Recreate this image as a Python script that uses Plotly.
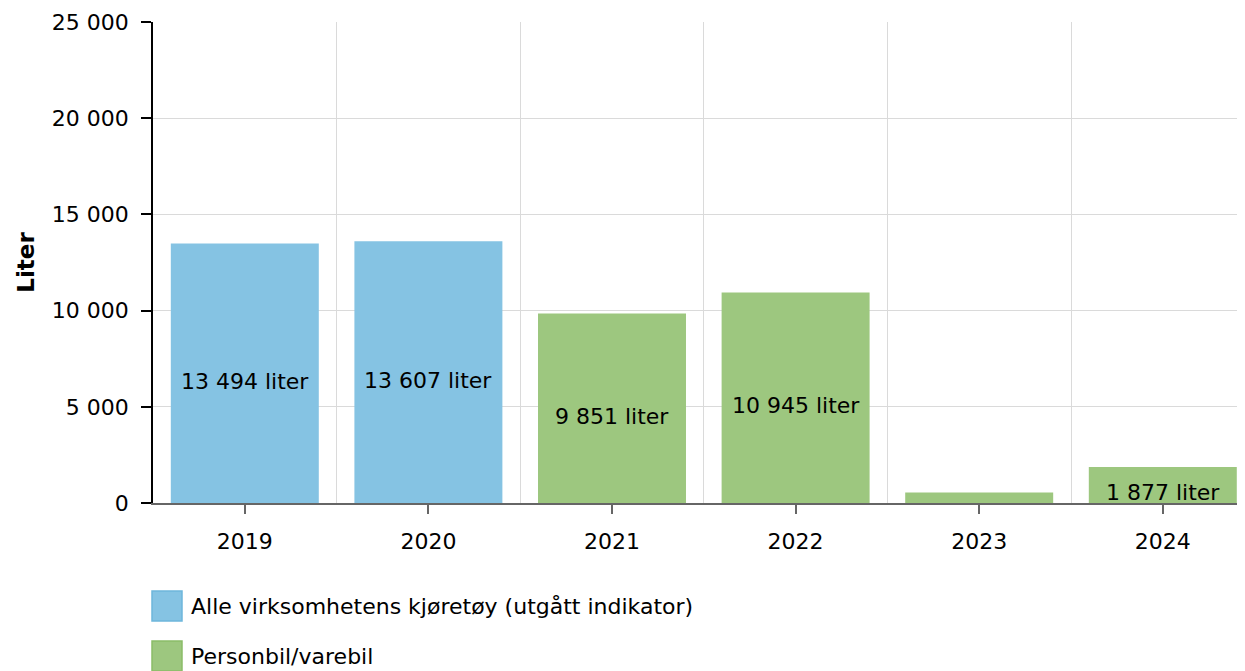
import plotly.graph_objects as go

years_a = [2019, 2020]
values_a = [13494, 13607]
years_b = [2021, 2022, 2023, 2024]
values_b = [9851, 10945, 550, 1877]
series_names = ["Alle virksomhetens kjøretøy (utgått indikator)", "Personbil/varebil"]
colors = ["#85C3E3", "#9DC77F"]
border_colors = ["#6DB6DC", "#8BBD68"]
year_ticks = [2019, 2020, 2021, 2022, 2023, 2024]
y_ticks = [0, 5000, 10000, 15000, 20000, 25000]
label_min = 1000  # labels skipped for very small bars

FONT = "DejaVu Sans, Verdana, sans-serif"
FS = 22
GRID = "#dadada"

def fmt(v):
    return f"{v:,}".replace(",", " ")

# page has an 8px body margin; work in figure coordinates
OFF = 8
L, T = 153 - OFF, 22 - OFF
W, H = 1245 - OFF, 671 - OFF
PLOT_BOTTOM = 503 - OFF
plot_w = W - L
plot_h = PLOT_BOTTOM - T

fig = go.Figure()
for xs, ys, name, c in [(years_a, values_a, series_names[0], colors[0]),
                        (years_b, values_b, series_names[1], colors[1])]:
    fig.add_trace(go.Bar(x=xs, y=ys, name=name, marker=dict(color=c, line=dict(width=0)),
                         width=0.806, showlegend=False, hoverinfo="x+y"))

annotations = []
for xs, ys in [(years_a, values_a), (years_b, values_b)]:
    for x, v in zip(xs, ys):
        if v >= label_min:
            annotations.append(dict(x=x, y=v / 2, xref="x", yref="y", text=f"{fmt(v)} liter",
                                    showarrow=False, yshift=-8,
                                    font=dict(family=FONT, size=FS, color="#000000")))

# custom legend (positions given in reference page pixels)
def px_x(px):
    return (px - OFF - L) / plot_w
def px_y(py):
    return (PLOT_BOTTOM - (py - OFF)) / plot_h

shapes = []
legend_rows = [606, 656]
for i, (name, c, bc) in enumerate(zip(series_names, colors, border_colors)):
    cy = legend_rows[i]
    shapes.append(dict(type="rect", xref="paper", yref="paper",
                       x0=px_x(152), x1=px_x(182), y0=px_y(cy + 15), y1=px_y(cy - 15),
                       fillcolor=c, line=dict(color=bc, width=1.5)))
    annotations.append(dict(x=px_x(189), y=px_y(cy), xref="paper", yref="paper",
                            xanchor="left", yanchor="middle", text=name, showarrow=False,
                            font=dict(family=FONT, size=FS, color="#000000")))

fig.update_layout(
    width=W, height=H,
    margin=dict(l=L, r=0, t=T, b=H - PLOT_BOTTOM),
    paper_bgcolor="white", plot_bgcolor="white",
    barmode="overlay",
    separators=", ",
    font=dict(family=FONT, size=FS, color="#000000"),
    showlegend=False,
    annotations=annotations,
    shapes=shapes,
    xaxis=dict(range=[2018.5, 2018.5 + plot_w / 183.6], tickvals=year_ticks,
               ticktext=[str(y) for y in year_ticks],
               showgrid=False, zeroline=False,
               showline=True, linecolor="#666666", linewidth=1.5,
               ticks="outside", ticklen=9, tickcolor="#666666", tickwidth=1.5,
               ticklabelstandoff=9,
               tickfont=dict(family=FONT, size=FS, color="#000000"),
               minor=dict(tickvals=[2019.5, 2020.5, 2021.5, 2022.5, 2023.5],
                          showgrid=True, gridcolor=GRID, gridwidth=1.2, ticks="")),
    yaxis=dict(range=[0, 25000], tickvals=y_ticks, tickformat=",d",
               showgrid=True, gridcolor=GRID, gridwidth=1.2, zeroline=False,
               showline=True, linecolor="#000000", linewidth=1.5,
               ticks="outside", ticklen=10, tickcolor="#000000", tickwidth=1.5,
               ticklabelstandoff=8,
               tickfont=dict(family=FONT, size=FS, color="#000000"),
               title=dict(text="<b>Liter</b>", font=dict(family=FONT, size=23, color="#000000"),
                          standoff=11)),
)

fig.write_html("out.html")
